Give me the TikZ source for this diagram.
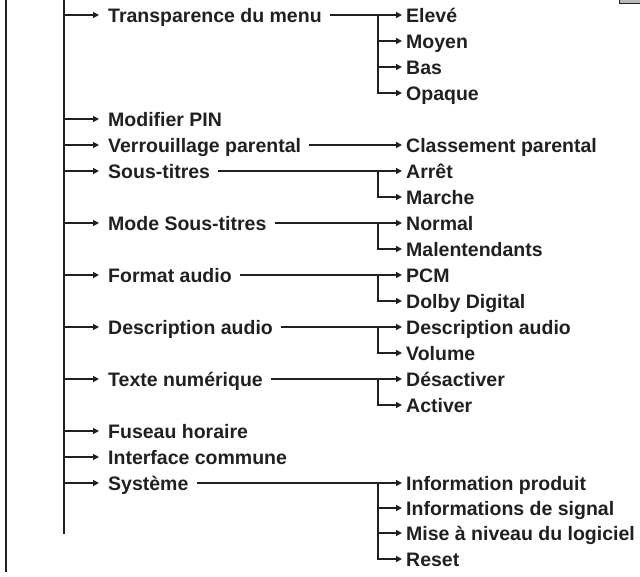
\documentclass[tikz,border=0pt]{standalone}
\usepackage{fontspec}
\setmainfont{Liberation Sans}
\usetikzlibrary{arrows.meta}
\definecolor{ink}{HTML}{231F20}

\begin{document}
\begin{tikzpicture}[
    x=1pt, y=-1pt,
    >={Triangle[length=6pt,width=6pt]},
    line/.style={line width=1.8pt, draw=ink},
    lvlone/.style={line, ->, shorten >=9pt},
    lvltwo/.style={line, ->, shorten <=8pt, shorten >=4pt},
    branch/.style={line, ->, shorten >=4pt},
    item/.style={anchor=west, inner sep=0pt, text height=14pt, text depth=0pt,
                 text=ink, font=\bfseries\fontsize{19.5}{20}\selectfont}
  ]
  \useasboundingbox (0,0) rectangle (640,576);

  % Rahmen und Stamm
  \fill[gray!55] (619,-5) rectangle (642,3);
  \draw[ink, line width=0.8pt] (619,-5) -- (619,3) -- (642,3);
  \coordinate (rtop) at (6,0);
  \coordinate (rbot) at (6,572);
  \coordinate (ttop) at (64,0);
  \coordinate (tbot) at (64,534);
  \draw[line] (rtop) -- (rbot);
  \draw[line] (ttop) -- (tbot);

  % erste Ebene
  \node[item] (transp)    at (108,15)  {Transparence du menu};
  \node[item] (pin)       at (108,119) {Modifier PIN};
  \node[item] (verrou)    at (108,145) {Verrouillage parental};
  \node[item] (soustit)   at (108,171) {Sous-titres};
  \node[item] (modest)    at (108,223) {Mode Sous-titres};
  \node[item] (format)    at (108,275) {Format audio};
  \node[item] (descr)     at (108,327) {Description audio};
  \node[item] (texte)     at (108,379) {Texte numérique};
  \node[item] (fuseau)    at (108,431) {Fuseau horaire};
  \node[item] (iface)     at (108,457) {Interface commune};
  \node[item] (systeme)   at (108,483) {Système};

  \foreach \n in {transp,pin,verrou,soustit,modest,format,descr,texte,fuseau,iface,systeme}
    \draw[lvlone] (ttop |- \n.west) -- (\n.west);

  % zweite Ebene
  \node[item] (eleve)     at (406,15)  {Elevé};
  \node[item] (moyen)     at (406,41)  {Moyen};
  \node[item] (bas)       at (406,67)  {Bas};
  \node[item] (opaque)    at (406,93)  {Opaque};
  \node[item] (classe)    at (406,145) {Classement parental};
  \node[item] (arret)     at (406,171) {Arrêt};
  \node[item] (marche)    at (406,197) {Marche};
  \node[item] (normal)    at (406,223) {Normal};
  \node[item] (malent)    at (406,249) {Malentendants};
  \node[item] (pcm)       at (406,275) {PCM};
  \node[item] (dolby)     at (406,301) {Dolby Digital};
  \node[item] (descra)    at (406,327) {Description audio};
  \node[item] (volume)    at (406,353) {Volume};
  \node[item] (desact)    at (406,379) {Désactiver};
  \node[item] (activ)     at (406,405) {Activer};
  \node[item] (infoprod)  at (406,483) {Information produit};
  \node[item] (infosig)   at (406,508) {Informations de signal};
  \node[item] (majlog)    at (406,533) {Mise à niveau du logiciel};
  \node[item] (reset)     at (406,559) {Reset};

  \draw[lvltwo] (transp) -- (eleve);
  \draw[lvltwo] (verrou) -- (classe);
  \draw[lvltwo] (soustit) -- (arret);
  \draw[lvltwo] (modest) -- (normal);
  \draw[lvltwo] (format) -- (pcm);
  \draw[lvltwo] (descr) -- (descra);
  \draw[lvltwo] (texte) -- (desact);
  \draw[lvltwo] (systeme) -- (infoprod);

  % Verzweigungen
  \coordinate (b1) at ([xshift=-28pt]eleve.west);
  \foreach \s in {moyen,bas,opaque} \draw[branch] (b1) |- (\s.west);
  \coordinate (b2) at ([xshift=-28pt]arret.west);
  \draw[branch] (b2) |- (marche.west);
  \coordinate (b3) at ([xshift=-28pt]normal.west);
  \draw[branch] (b3) |- (malent.west);
  \coordinate (b4) at ([xshift=-28pt]pcm.west);
  \draw[branch] (b4) |- (dolby.west);
  \coordinate (b5) at ([xshift=-28pt]descra.west);
  \draw[branch] (b5) |- (volume.west);
  \coordinate (b6) at ([xshift=-28pt]desact.west);
  \draw[branch] (b6) |- (activ.west);
  \coordinate (b7) at ([xshift=-28pt]infoprod.west);
  \foreach \s in {infosig,majlog,reset} \draw[branch] (b7) |- (\s.west);
\end{tikzpicture}
\end{document}
